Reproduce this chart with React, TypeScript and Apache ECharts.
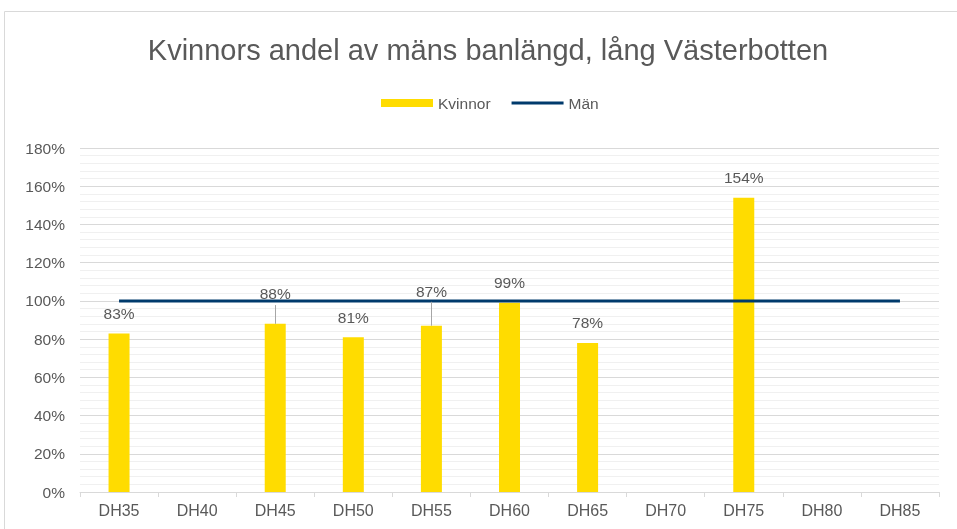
import React, { useEffect, useRef } from "react";
import * as echarts from "echarts";

const categories = ["DH35", "DH40", "DH45", "DH50", "DH55", "DH60", "DH65", "DH70", "DH75", "DH80", "DH85"];
const kvinnor: (number | null)[] = [83, null, 88, 81, 87, 99, 78, null, 154, null, null];
const man: number[] = [100, 100, 100, 100, 100, 100, 100, 100, 100, 100, 100];
const yTicks = { min: 0, max: 180, interval: 20 };

// label adjustments (styling only): moved labels with leader lines
const movedLabels: Record<string, { dy: number; leaderTop: number }> = {
  DH45: { dy: -10, leaderTop: 97.8 },
  DH55: { dy: -14, leaderTop: 99.5 },
};

const FONT = "'Liberation Sans', Arial, sans-serif";
const GRAY = "#595959";

export default function App() {
  const ref = useRef<HTMLDivElement>(null);
  useEffect(() => {
    if (!ref.current) return;
    const chart = echarts.init(ref.current, undefined, { renderer: "svg" });
    const barData = kvinnor.map((v, i) => {
      const m = movedLabels[categories[i]];
      if (v !== null && m) {
        return { value: v, label: { offset: [0, m.dy] } };
      }
      return v;
    });
    const leaderLines = categories
      .map((c, i) => {
        const m = movedLabels[c];
        const v = kvinnor[i];
        if (!m || v === null) return null;
        return [{ coord: [c, v] }, { coord: [c, m.leaderTop] }];
      })
      .filter(Boolean);
    chart.setOption({
      animation: false,
      textStyle: { fontFamily: FONT },
      graphic: [
        {
          type: "rect",
          shape: { x: 4.5, y: 11.5, width: 1000, height: 600 },
          style: { fill: "none", stroke: "#D9D9D9", lineWidth: 1 },
          silent: true,
          z: -10,
        },
      ],
      title: {
        text: "Kvinnors andel av mäns banlängd, lång Västerbotten",
        left: 488,
        top: 35,
        padding: 0,
        textAlign: "center",
        textStyle: { fontFamily: FONT, fontSize: 29, fontWeight: "normal", color: GRAY },
      },
      legend: {
        left: 381,
        top: 95,
        padding: 0,
        itemWidth: 52,
        itemHeight: 8,
        itemGap: 21,
        textStyle: { fontFamily: FONT, fontSize: 15.5, color: GRAY },
        data: [
          { name: "Kvinnor", icon: "rect" },
          { name: "Män", icon: "path://M0,0H52V3H0Z" },
        ],
      },
      grid: { left: 80, right: 18, top: 148, bottom: 37, containLabel: false },
      xAxis: {
        type: "category",
        data: categories,
        boundaryGap: true,
        axisLine: { show: true, lineStyle: { color: "#D9D9D9", width: 1 } },
        axisTick: { show: true, alignWithLabel: false, length: 5, lineStyle: { color: "#D9D9D9" } },
        axisLabel: { fontFamily: FONT, fontSize: 16, color: GRAY, margin: 10 },
        splitLine: { show: false },
      },
      yAxis: {
        type: "value",
        min: yTicks.min,
        max: yTicks.max,
        interval: yTicks.interval,
        axisLine: { show: false },
        axisTick: { show: false },
        axisLabel: { fontFamily: FONT, fontSize: 15.5, color: GRAY, margin: 15, formatter: "{value}%" },
        splitLine: { show: true, lineStyle: { color: "#D9D9D9", width: 1 } },
        minorTick: { show: false, splitNumber: 5 },
        minorSplitLine: { show: true, lineStyle: { color: "#F0F0F0", width: 1 } },
      },
      series: [
        {
          name: "Kvinnor",
          type: "bar",
          data: barData,
          barWidth: 21,
          itemStyle: { color: "#FFDC00" },
          label: {
            show: true,
            position: "top",
            distance: 12,
            fontFamily: FONT,
            fontSize: 15.5,
            color: GRAY,
            formatter: (p: any) => `${p.value}%`,
          },
          markLine: {
            silent: true,
            symbol: ["none", "none"],
            label: { show: false },
            lineStyle: { color: "#A6A6A6", width: 1, type: "solid" },
            data: leaderLines,
          },
        },
        {
          name: "Män",
          type: "line",
          data: man,
          symbol: "none",
          lineStyle: { color: "#003A6C", width: 3 },
          itemStyle: { color: "#003A6C" },
          z: 3,
        },
      ],
    });
    return () => chart.dispose();
  }, []);
  return <div ref={ref} style={{ position: "fixed", left: 0, top: 0, width: 957, height: 529 }} />;
}
